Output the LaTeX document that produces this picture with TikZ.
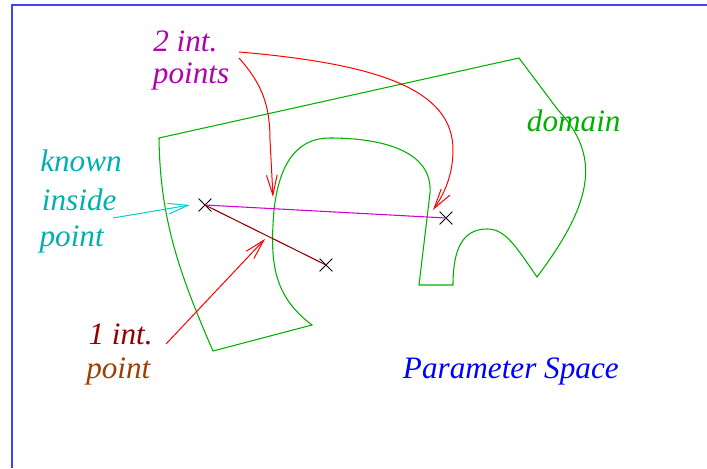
\documentclass[tikz,border=0pt]{standalone}
\usepackage{fontspec}
\setmainfont{Liberation Serif}
\usetikzlibrary{arrows.meta,shapes.misc}
\definecolor{psgreen}{RGB}{0,176,0}
\definecolor{psmag}{RGB}{176,0,176}
\definecolor{psmagline}{RGB}{208,0,208}
\definecolor{pscyan}{RGB}{0,176,176}
\definecolor{pscyanline}{RGB}{0,208,208}
\definecolor{psdarkred}{RGB}{144,0,0}
\definecolor{psbrown}{RGB}{160,64,0}
\definecolor{psframe}{RGB}{64,64,255}

\begin{document}
\begin{tikzpicture}[x=0.75pt,y=-0.75pt,>={Straight Barb[length=15pt,width=8pt]},
    font=\itshape\fontsize{23.4}{28}\selectfont,
    every node/.style={inner sep=0pt,anchor=base west},
    hit/.style={draw,cross out,minimum size=9pt,line width=0.6pt,anchor=center},
    ptr/.style={->,red,line width=0.75pt}]
    \useasboundingbox (0,0) rectangle (707,468);
    \draw[psframe,line width=1pt] (12,468) -- (12,5) -- (707,5);
    % domain outline
    \draw[psgreen,line width=0.8pt] (159,138) -- (519,58) -- (558,110)
      .. controls (600,155) and (595,200) .. (537,277)
      .. controls (515,245) and (505,229) .. (487,229)
      .. controls (462,229) and (453,250) .. (453,285)
      -- (419,285) -- (430,193)
      .. controls (433,150) and (380,138) .. (330,138)
      .. controls (290,138) and (278,175) .. (274,210)
      .. controls (270,260) and (272,295) .. (312,325)
      -- (213,351)
      .. controls (180,275) and (160,220) .. (159,138) -- cycle;
    % points and rays
    \node[hit] (inpt) at (205,205) {};
    \node[hit] (far) at (446,218) {};
    \node[hit] (near) at (326,265) {};
    \draw[psmagline,line width=0.8pt] (inpt.center) -- (far.center);
    \draw[psdarkred,line width=0.8pt] (inpt.center) -- (near.center);
    % labels
    \node[text=psmag] (two) at (153,51.7) {2 int.};
    \node[text=psmag] (twopts) at (152.7,83.3) {points};
    \node[text=pscyan] (known) at (40,171.7) {known};
    \node[text=pscyan] (inside) at (41.7,210) {inside};
    \node[text=pscyan] (kpoint) at (39.3,246.7) {point};
    \node[text=psdarkred] (one) at (88.3,344.3) {1 int.};
    \node[text=psbrown] (onept) at (86,378.3) {point};
    \node[text=psgreen] (dom) at (526.7,131.7) {domain};
    \node[text=blue] (space) at (402.7,378.3) {Parameter Space};
    % pointers
    \coordinate (t1) at (239,52);
    \coordinate (t2) at (239,58);
    \coordinate (e1) at (433,210);
    \coordinate (e2) at (273,197);
    \coordinate (k0) at (113,218);
    \coordinate (k1) at (190,205);
    \coordinate (o0) at (166,344);
    \coordinate (o1) at (265,239);
    \draw[ptr] (t1) .. controls (380,64) and (453,90) .. (453,150)
      .. controls (453,180) and (440,200) .. (e1);
    \draw[ptr] (t2) .. controls (262,84) and (270,105) .. (270,140) -- (e2);
    \draw[ptr,pscyanline] (k0) -- (k1);
    \draw[ptr] (o0) -- (o1);
\end{tikzpicture}
\end{document}
